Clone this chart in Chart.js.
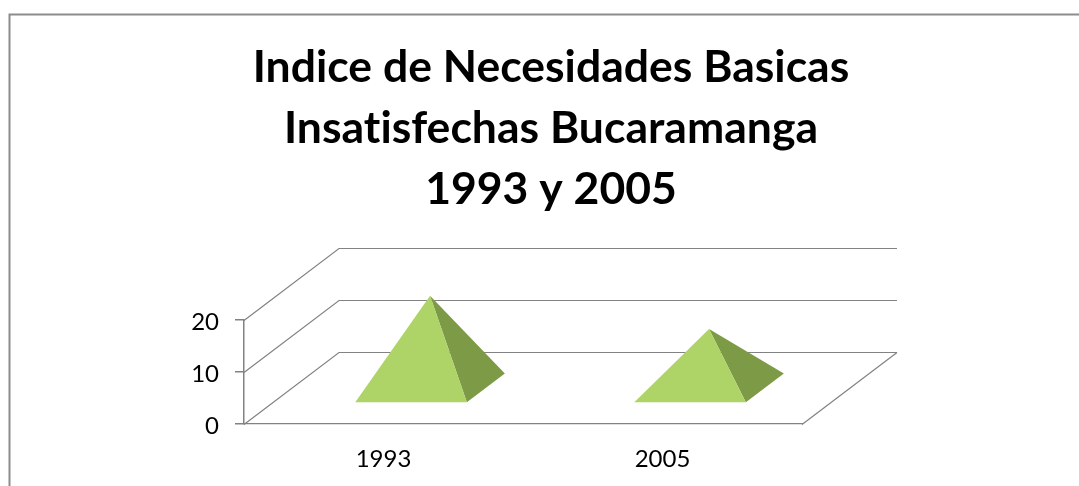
<!DOCTYPE html>
<html><head><meta charset="utf-8">
<style>html,body{margin:0;padding:0;background:#fff}#w{width:1079px;height:486px;position:relative}</style>
<script src="https://cdn.jsdelivr.net/npm/chart.js@4"></script>
</head><body><div id="w"><canvas id="c"></canvas></div>
<script>
const categories = ['1993', '2005'];
const values = [17.9, 11.5];
const yTicks = [0, 10, 20];
const titleLines = ['Indice de Necesidades Basicas', 'Insatisfechas Bucaramanga', '1993 y 2005'];

const GRID = '#828282', FRONT = '#aed468', SIDE = '#7d9a46';
const DX = 95, DY = -72;           // 3D depth vector of the floor
const NEAR = 0.29, FAR = 0.69;     // pyramid base: fraction of the depth

function line(ctx, pts) {
  ctx.beginPath();
  pts.forEach((p, i) => i ? ctx.lineTo(p[0], p[1]) : ctx.moveTo(p[0], p[1]));
  ctx.stroke();
}
function poly(ctx, pts, fill) {
  ctx.beginPath();
  pts.forEach((p, i) => i ? ctx.lineTo(p[0], p[1]) : ctx.moveTo(p[0], p[1]));
  ctx.closePath();
  ctx.fillStyle = fill;
  ctx.fill();
}

const pseudo3d = {
  id: 'pseudo3d',
  beforeDraw(chart) {
    const ctx = chart.ctx;
    ctx.letterSpacing = '0.01px';   // turns off the "ti" ligature of the font
    ctx.save();
    ctx.strokeStyle = '#8c8c8c';
    ctx.lineWidth = 2;
    line(ctx, [[9.5, 486], [9.5, 14.5], [1079, 14.5]]);
    ctx.restore();
  },
  beforeDatasetsDraw(chart) {
    const ctx = chart.ctx, x = chart.scales.x, y = chart.scales.y;
    const L = x.left, R = x.right;
    ctx.save();
    ctx.strokeStyle = GRID;
    ctx.lineWidth = 1.2;
    yTicks.forEach(t => {
      const p = Math.round(y.getPixelForValue(t)) + 0.5;
      line(ctx, [[L, p], [L + DX, p + DY], [R + DX, p + DY]]);
    });
    const b = Math.round(y.getPixelForValue(0)) + 0.5;
    line(ctx, [[R, b], [R + DX, b + DY]]);
    ctx.restore();
  },
  afterDatasetsDraw(chart) {
    const ctx = chart.ctx;
    chart.getDatasetMeta(0).data.forEach(el => {
      const hw = el.width / 2, mid = (NEAR + FAR) / 2;
      const fl = [el.x - hw + NEAR * DX, el.base + NEAR * DY];
      const fr = [el.x + hw + NEAR * DX, el.base + NEAR * DY];
      const br = [el.x + hw + FAR * DX, el.base + FAR * DY];
      const apex = [el.x + mid * DX, el.y + mid * DY];
      poly(ctx, [fr, br, apex], SIDE);
      poly(ctx, [fl, fr, apex], FRONT);
    });
  }
};

new Chart(document.getElementById('c'), {
  type: 'bar',
  data: { labels: categories, datasets: [{ data: values, yAxisID: 'y', backgroundColor: 'rgba(0,0,0,0)', barPercentage: 0.4, categoryPercentage: 1 }] },
  plugins: [pseudo3d],
  options: {
    responsive: true, maintainAspectRatio: false, animation: false,
    layout: { padding: { left: 23, right: 0, top: 0, bottom: 0 } },
    plugins: {
      legend: { display: false }, tooltip: { enabled: false },
      title: {
        display: true, text: titleLines, color: '#000', align: 'center',
        font: { family: 'Lato', weight: 'bold', size: 44.5, lineHeight: 1.371 },
        padding: { top: 37, bottom: 100 },
        fullSize: true
      }
    },
    scales: {
      x: {
        grid: { display: false, drawTicks: false },
        border: { display: true, color: GRID, width: 1.2 },
        ticks: { color: '#000', font: { family: 'Lato', size: 24 }, padding: 21, maxRotation: 0 },
        afterFit(s) { s.height = 62; }
      },
      y: {
        min: 0, max: 20,
        afterBuildTicks(s) { s.ticks = yTicks.map(v => ({ value: v })); },
        grid: { drawOnChartArea: false, drawTicks: true, tickLength: 9, color: GRID, lineWidth: 1.5 },
        border: { display: true, color: GRID, width: 1.5 },
        ticks: { color: '#000', font: { family: 'Lato', size: 24 }, padding: 16, labelOffset: 2 },
        afterFit(s) { s.width = 221; }
      },
      spacer: {
        position: 'right', display: true,
        grid: { display: false }, border: { display: false }, ticks: { display: false },
        afterFit(s) { s.width = 277; }
      }
    }
  }
});
</script></body></html>
